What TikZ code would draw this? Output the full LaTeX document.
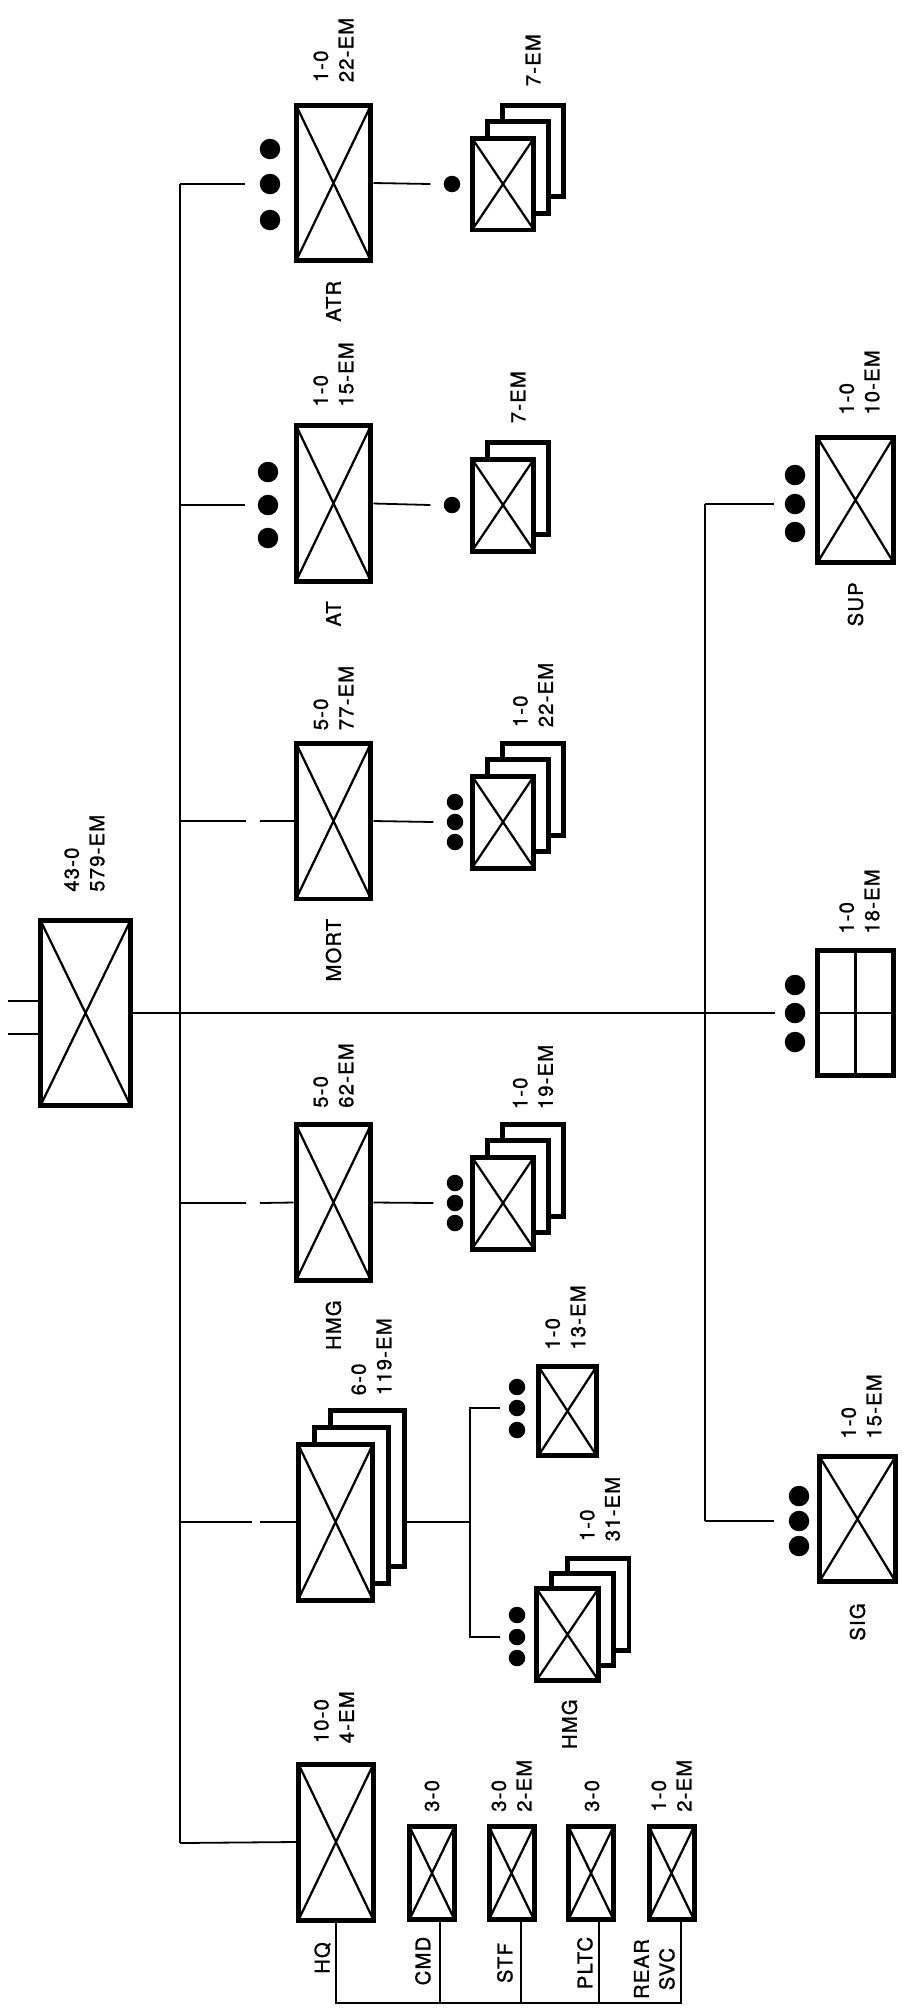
\documentclass[tikz,border=0pt]{standalone}
\usepackage{fontspec}
\newfontfamily\lblfont[LetterSpace=6, FakeBold=1.2]{TeX Gyre Heros}
\usetikzlibrary{calc}

\begin{document}
\begin{tikzpicture}[x=0.02cm, y=-0.02cm,
    plainbox/.style={rectangle, draw, line width=0.1cm, fill=white, inner sep=0pt},
    xcross/.style={path picture={\draw[line width=0.045cm] (path picture bounding box.north west) -- (path picture bounding box.south east)
        (path picture bounding box.north east) -- (path picture bounding box.south west);}},
    unitbox/.style={plainbox, xcross},
    hhcbox/.style={plainbox, path picture={\draw[line width=0.045cm] (path picture bounding box.north) -- (path picture bounding box.south)
        (path picture bounding box.west) -- (path picture bounding box.east);}},
    bigsz/.style={minimum width=1.5cm, minimum height=3.12cm},
    subsz/.style={minimum width=1.24cm, minimum height=1.84cm},
    smallsz/.style={minimum width=0.9cm, minimum height=1.86cm},
    svcsz/.style={minimum width=1.52cm, minimum height=2.5cm},
    bigdot/.style={circle, fill, inner sep=0pt, minimum size=0.41cm},
    sdot/.style={circle, fill, inner sep=0pt, minimum size=0.33cm},
    conn/.style={line width=0.036cm},
    lbl/.style={font=\lblfont\fontsize{11.5}{14.5}\selectfont, rotate=90, inner sep=0pt, align=left}]
  \useasboundingbox (0,0) rectangle (908,2016);

  % battalion
  \node[unitbox, minimum width=1.8cm, minimum height=3.7cm] (bn) at (85.5,1013) {};
  \node[lbl, anchor=west] (bnn) at ($(bn.north)+(-1,-26)$) {43-0\\579-EM};
  \coordinate (s1) at (8,1001);
  \coordinate (s2) at (8,1034);
  \draw[conn] (s1) -- (s1 -| bn.west);
  \draw[conn] (s2) -- (s2 -| bn.west);

  % trunk lines
  \coordinate (jatr) at (180,184);
  \coordinate (jat) at (180,505);
  \coordinate (jmort) at (180,821);
  \coordinate (jhmg) at (180,1203);
  \coordinate (jco) at (180,1522);
  \coordinate (jhq) at (180,1843);
  \coordinate (jsup) at (705,504);
  \coordinate (jsig) at (705,1521);
  \coordinate (jhhc) at (775,1013);
  \draw[conn] (jatr) -- (jhq);
  \draw[conn] (jsup) -- (jsig);
  \draw[conn] (bn.east) -- (jhhc);

  % ATR
  \node[unitbox, bigsz] (atr) at (333.5,183) {};
  \node[lbl, anchor=west] (atrn) at ($(atr.north)+(0,-20)$) {1-0\\22-EM};
  \node[lbl, anchor=east] (atrt) at ($(atr.south)+(0,17)$) {ATR};
  \node[bigdot] (atrd1) at (270,149) {};
  \node[bigdot] (atrd2) at (270,184) {};
  \node[bigdot] (atrd3) at (270,220) {};
  \draw[conn] (jatr) -- ($(atrd2.west)+(-14,0)$);
  \coordinate (atrsc) at (503,184);
  \node[plainbox, subsz] (atrs3) at ($(atrsc)+(30,-33)$) {};
  \node[plainbox, subsz] (atrs2) at ($(atrsc)+(15,-16.5)$) {};
  \node[unitbox, subsz] (atrs) at (atrsc) {};
  \node[sdot] (atrsd) at (452,184) {};
  \draw[conn] (atr.east) -- ($(atrsd.west)+(-13,0)$);
  \node[lbl, anchor=west] (atrsn) at ($(atrs3.north)+(0,-16)$) {7-EM};

  % AT
  \node[unitbox, bigsz] (at) at (333.5,503.5) {};
  \node[lbl, anchor=west] (atn) at ($(at.north)+(0,-16)$) {1-0\\15-EM};
  \node[lbl, anchor=east] (att) at ($(at.south)+(0,17)$) {AT};
  \node[bigdot] (atd1) at (268,472) {};
  \node[bigdot] (atd2) at (268,505) {};
  \node[bigdot] (atd3) at (268,538) {};
  \draw[conn] (jat) -- ($(atd2.west)+(-12,0)$);
  \coordinate (atsc) at (503,505);
  \node[plainbox, subsz] (ats2) at ($(atsc)+(15,-17)$) {};
  \node[unitbox, subsz] (ats) at (atsc) {};
  \node[sdot] (atsd) at (452,505) {};
  \draw[conn] (at.east) -- ($(atsd.west)+(-13,0)$);
  \node[lbl, anchor=west] (atsn) at ($(ats2.north)+(0,-16)$) {7-EM};

  % MORT
  \node[unitbox, bigsz] (mort) at (333.5,821) {};
  \node[lbl, anchor=west] (mortn) at ($(mort.north)+(0,-10)$) {5-0\\77-EM};
  \node[lbl, anchor=east] (mortt) at ($(mort.south)+(0,17)$) {MORT};
  \draw[conn] (jmort) -- ++(66,0) ++(14,0) -- (mort.west);
  \coordinate (mortsc) at (503,822);
  \node[plainbox, subsz] (morts3) at ($(mortsc)+(30,-33)$) {};
  \node[plainbox, subsz] (morts2) at ($(mortsc)+(15,-16.5)$) {};
  \node[unitbox, subsz] (morts) at (mortsc) {};
  \node[sdot] (mortd1) at (455,802) {};
  \node[sdot] (mortd2) at (455,822) {};
  \node[sdot] (mortd3) at (455,842) {};
  \draw[conn] (mort.east) -- ($(mortd2.west)+(-13,0)$);
  \node[lbl, anchor=west] (mortsn) at ($(morts3.north)+(0,-13)$) {1-0\\22-EM};

  % HMG
  \node[unitbox, bigsz] (hmg) at (333.5,1202.5) {};
  \node[lbl, anchor=west] (hmgn) at ($(hmg.north)+(0,-14)$) {5-0\\62-EM};
  \node[lbl, anchor=east] (hmgt) at ($(hmg.south)+(0,17)$) {HMG};
  \draw[conn] (jhmg) -- ++(66,0) ++(14,0) -- (hmg.west);
  \coordinate (hmgsc) at (503,1203);
  \node[plainbox, subsz] (hmgs3) at ($(hmgsc)+(30,-33)$) {};
  \node[plainbox, subsz] (hmgs2) at ($(hmgsc)+(15,-16.5)$) {};
  \node[unitbox, subsz] (hmgs) at (hmgsc) {};
  \node[sdot] (hmgd1) at (455,1183) {};
  \node[sdot] (hmgd2) at (455,1203) {};
  \node[sdot] (hmgd3) at (455,1223) {};
  \draw[conn] (hmg.east) -- ($(hmgd2.west)+(-13,0)$);
  \node[lbl, anchor=west] (hmgsn) at ($(hmgs3.north)+(0,-12)$) {1-0\\19-EM};

  % rifle companies
  \coordinate (coc) at (335.5,1522);
  \node[plainbox, bigsz] (co3) at ($(coc)+(32,-34)$) {};
  \node[plainbox, bigsz] (co2) at ($(coc)+(16,-17)$) {};
  \node[unitbox, bigsz] (co) at (coc) {};
  \node[lbl, anchor=west] (con) at ($(co3.north)+(4,-12)$) {6-0\\119-EM};
  \draw[conn] (jco) -- ++(72,0) ++(8,0) -- (co.west);
  \coordinate (jpl) at (470,1522);
  \coordinate (jpl1) at (470,1408);
  \coordinate (jpl2) at (470,1637);
  \draw[conn] (jpl -| co3.east) -- (jpl);
  \node[sdot] (pl1d1) at (517,1387) {};
  \node[sdot] (pl1d2) at (517,1408) {};
  \node[sdot] (pl1d3) at (517,1430) {};
  \node[sdot] (pl2d1) at (517,1615) {};
  \node[sdot] (pl2d2) at (517,1637) {};
  \node[sdot] (pl2d3) at (517,1658) {};
  \draw[conn] ($(pl1d2.west)+(-8,0)$) -- (jpl1) -- (jpl2) -- ($(pl2d2.west)+(-8,0)$);
  \node[unitbox, minimum width=1.16cm, minimum height=1.78cm] (pl1) at (567.5,1411) {};
  \node[lbl, anchor=west] (pl1n) at ($(pl1.north)+(-2,-14)$) {1-0\\13-EM};
  \coordinate (pl2c) at (567.5,1634.5);
  \node[plainbox, subsz] (pl23) at ($(pl2c)+(30.5,-30.5)$) {};
  \node[plainbox, subsz] (pl22) at ($(pl2c)+(15,-15)$) {};
  \node[unitbox, subsz] (pl2) at (pl2c) {};
  \node[lbl, anchor=west] (pl2n) at ($(pl23.north)+(2,-14)$) {1-0\\31-EM};
  \node[lbl, anchor=east] (pl2t) at ($(pl2.south)+(2,16)$) {HMG};

  % SUP
  \node[unitbox, svcsz] (sup) at (855.5,500) {};
  \node[lbl, anchor=west] (supn) at ($(sup.north)+(4,-20)$) {1-0\\10-EM};
  \node[lbl, anchor=east] (supt) at ($(sup.south)+(0,17)$) {SUP};
  \node[bigdot] (supd1) at (795,475) {};
  \node[bigdot] (supd2) at (795,504) {};
  \node[bigdot] (supd3) at (795,532) {};
  \draw[conn] (jsup) -- ($(supd2.west)+(-10,0)$);

  % HHC
  \node[hhcbox, svcsz] (hhc) at (855.5,1013) {};
  \node[lbl, anchor=west] (hhcn) at ($(hhc.north)+(4,-14)$) {1-0\\18-EM};
  \node[bigdot] (hhcd1) at (795,985) {};
  \node[bigdot] (hhcd2) at (795,1013) {};
  \node[bigdot] (hhcd3) at (795,1042) {};

  % SIG
  \node[unitbox, svcsz] (sig) at (857.5,1519) {};
  \node[lbl, anchor=west] (sign) at ($(sig.north)+(4,-15)$) {1-0\\15-EM};
  \node[lbl, anchor=east] (sigt) at ($(sig.south)+(0,19)$) {SIG};
  \node[bigdot] (sigd1) at (799,1496) {};
  \node[bigdot] (sigd2) at (799,1521) {};
  \node[bigdot] (sigd3) at (799,1546) {};
  \draw[conn] (jsig) -- ($(sigd2.west)+(-14,0)$);

  % HQ and its sections
  \node[unitbox, bigsz] (hq) at (336,1842) {};
  \node[lbl, anchor=west] (hqn) at ($(hq.north)+(-2,-18)$) {10-0\\4-EM};
  \draw[conn] (jhq) -- (hq.west);
  \node[unitbox, smallsz] (cmd) at (432,1873) {};
  \node[unitbox, smallsz] (stf) at (511.5,1873) {};
  \node[unitbox, smallsz] (pltc) at (591,1873) {};
  \node[unitbox, smallsz] (rear) at (671.5,1873) {};
  \node[lbl, anchor=west] (cmdn) at ($(cmd.north)+(0,-12)$) {3-0};
  \node[lbl, anchor=west] (stfn) at ($(stf.north)+(0,-12)$) {3-0\\2-EM};
  \node[lbl, anchor=west] (pltcn) at ($(pltc.north)+(1,-12)$) {3-0};
  \node[lbl, anchor=west] (rearn) at ($(rear.north)+(0,-12)$) {1-0\\2-EM};
  \coordinate (busr) at (681,2003);
  \coordinate (cmdf) at (440,1920);
  \coordinate (stff) at (521,1920);
  \coordinate (pltcf) at (599,1920);
  \draw[conn] (hq.south) |- (busr) -- (rear.south -| busr);
  \draw[conn] (cmdf) -- (cmdf |- busr);
  \draw[conn] (stff) -- (stff |- busr);
  \draw[conn] (pltcf) -- (pltcf |- busr);
  \node[lbl, anchor=south] (hqt) at (331,1958) {HQ};
  \node[lbl, anchor=south] (cmdt) at (431,1961) {CMD};
  \node[lbl, anchor=south] (stft) at (513,1963) {STF};
  \node[lbl, anchor=south] (pltct) at (593,1963) {PLTC};
  \node[lbl, anchor=south, align=center] (reart) at (675,1969) {REAR\\SVC};
\end{tikzpicture}
\end{document}
